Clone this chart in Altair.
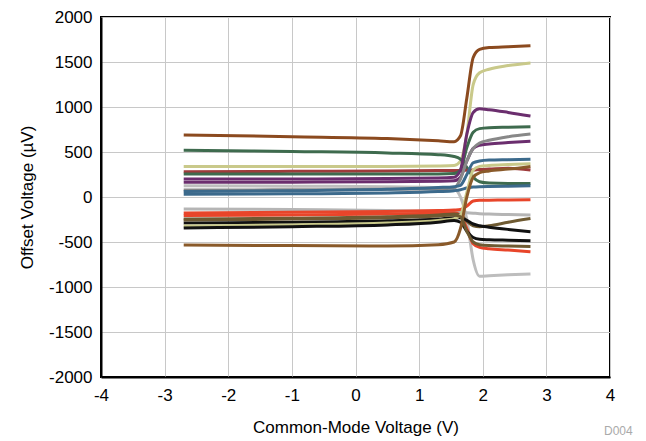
import altair as alt
import pandas as pd

# Common-mode voltage sample points (V)
vcm = [-2.7, -1.0, 0.5, 1.3, 1.55, 1.65, 1.75, 1.85, 1.95, 2.1, 2.4, 2.75]

# Offset voltage per unit (uV)
series = {
    "u01": [690, 670, 650, 625, 615, 680, 1100, 1550, 1640, 1660, 1670, 1680],
    "u02": [340, 340, 340, 345, 350, 400, 700, 1250, 1380, 1420, 1460, 1490],
    "u03": [520, 505, 490, 470, 450, 420, 330, 220, 170, 155, 150, 150],
    "u04": [281, 285, 290, 295, 295, 295, 298, 300, 305, 310, 320, 300],
    "u05": [255, 255, 255, 255, 260, 300, 550, 720, 760, 770, 775, 780],
    "u06": [200, 200, 205, 210, 220, 300, 700, 940, 980, 970, 940, 900],
    "u07": [165, 165, 170, 175, 180, 220, 400, 540, 575, 590, 605, 620],
    "u08": [126, 120, 115, 105, 90, 0, -250, -700, -880, -875, -865, -855],
    "u09": [78, 80, 85, 90, 100, 200, 400, 540, 600, 630, 670, 700],
    "u10": [60, 70, 85, 105, 115, 130, 250, 380, 400, 410, 415, 420],
    "u11": [30, 35, 45, 60, 70, 80, 100, 110, 115, 118, 120, 125],
    "u12": [-133, -140, -150, -160, -165, -170, -175, -180, -185, -190, -195, -200],
    "u13": [-178, -170, -160, -150, -145, -140, -100, -45, -35, -35, -33, -30],
    "u14": [-205, -200, -190, -180, -175, -200, -350, -520, -560, -575, -590, -608],
    "u15": [-244, -235, -220, -200, -190, -200, -270, -320, -330, -320, -280, -240],
    "u16": [-289, -280, -265, -245, -230, -230, -260, -300, -320, -335, -360, -385],
    "u17": [-322, -310, -290, -260, -240, -200, 50, 300, 340, 350, 360, 370],
    "u18": [-344, -330, -310, -280, -260, -280, -380, -450, -470, -475, -480, -485],
    "u19": [-533, -540, -545, -530, -500, -350, 0, 220, 270, 290, 310, 340],
    "u20": [-255, -245, -230, -210, -200, -220, -380, -500, -530, -540, -545, -550],
}

colors = {
    "u01": "#8B4A1F", "u02": "#C9C98A", "u03": "#3E6B4E", "u04": "#9E3B3B",
    "u05": "#3E6B4E", "u06": "#6B2E6E", "u07": "#6B2E6E", "u08": "#BDBDBD",
    "u09": "#888888", "u10": "#3C6A8C", "u11": "#3C6A8C", "u12": "#B5B5B5",
    "u13": "#E8452A", "u14": "#E8452A", "u15": "#6E5A32", "u16": "#111111",
    "u17": "#C9C98A", "u18": "#111111", "u19": "#8A5A2A", "u20": "#6E5A32",
}

rows = []
for name, vals in series.items():
    for x, y in zip(vcm, vals):
        rows.append({"unit": name, "vcm": x, "vos": y})
df = pd.DataFrame(rows)

names = list(series.keys())

common_axis = dict(
    grid=True, gridColor="#C8C8C8", gridWidth=1,
    domain=True, domainColor="#000000", domainWidth=2,
    ticks=False, labelFontSize=17, titleFontSize=17, titleFontWeight="normal",
    labelFont="Liberation Sans", titleFont="Liberation Sans",
    labelColor="#000000", titleColor="#000000", labelFlush=False,
    labelExpr="'' + datum.value",
)

lines = alt.Chart(df).mark_line(strokeWidth=3, interpolate="monotone").encode(
    x=alt.X("vcm:Q",
            scale=alt.Scale(domain=[-4, 4], nice=False, zero=False),
            axis=alt.Axis(values=list(range(-4, 5)), title="Common-Mode Voltage (V)",
                          labelPadding=10, titleY=50, titleBaseline="middle",
                          **common_axis)),
    y=alt.Y("vos:Q",
            scale=alt.Scale(domain=[-2000, 2000], nice=False, zero=False),
            axis=alt.Axis(values=list(range(-2000, 2001, 500)), title="Offset Voltage (µV)",
                          labelPadding=9, titleX=-74, titleY=180, titleBaseline="middle",
                          **common_axis)),
    color=alt.Color("unit:N", scale=alt.Scale(domain=names, range=[colors[n] for n in names]),
                    legend=None),
    detail="unit:N",
)

tag = alt.Chart(pd.DataFrame({"t": ["D004"]})).mark_text(
    align="left", baseline="middle", fontSize=12, color="#AAAAAA", font="Liberation Sans"
).encode(x=alt.value(503), y=alt.value(414), text="t:N")

chart = alt.layer(lines, tag).properties(
    width=509, height=360,
    autosize=alt.AutoSizeParams(type="none"),
    padding={"left": 93, "top": 9, "right": 28, "bottom": 62},
).configure_view(stroke="#000000", strokeWidth=2)

chart.save("out.html", embed_options={"renderer": "svg", "actions": False})
